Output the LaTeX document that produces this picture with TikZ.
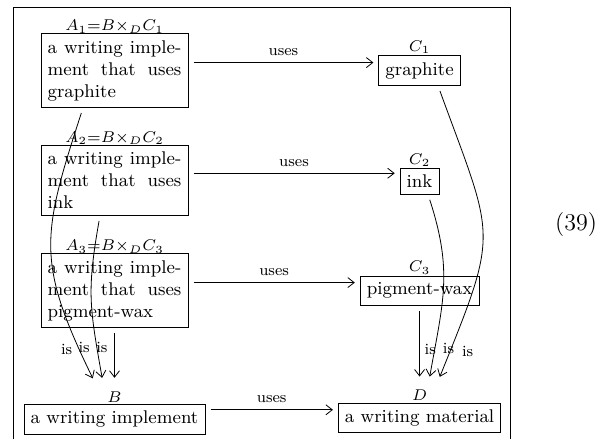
\documentclass[tikz,border=0pt]{standalone}
\usepackage{fix-cm}
\usepackage{tikz}
\usetikzlibrary{positioning,arrows.meta}
\newcommand{\boxfont}{\fontsize{9.2}{11}\selectfont}
\newcommand{\lblfont}{\fontsize{7.8}{9}\selectfont}
\tikzset{box/.style={draw,inner sep=3.3pt,font=\boxfont},
         textbox/.style={box,text width=66.9pt,align=justify},
         lbl/.style={font=\lblfont},
         every label/.style={inner sep=0.6pt,font=\lblfont}
}
\tikzstyle{arrow} = [->,>={Straight Barb[length=3.2pt,width=5pt]},shorten <=2.7pt,shorten >=2.5pt]

\begin{document}
\begin{tikzpicture}

\useasboundingbox (0,0) rectangle (304pt,-219.5pt);
\draw (6.65pt,-219.5pt) |- (255.35pt,-3.65pt) -- (255.35pt,-219.5pt);

\node[textbox,anchor=north,label={[yshift=-0.7pt]above:$A_1{=}B{\times_D}C_1$}] (A1) at (57.25pt,-16.65pt) {a writing implement that uses graphite};
\node[textbox,below=18.5pt of A1,label={[yshift=-0.7pt]above:$A_2{=}B{\times_D}C_2$}] (A2) {a writing implement that uses ink};
\node[textbox,below=18.8pt of A2,label={[yshift=-0.7pt]above:$A_3{=}B{\times_D}C_3$}] (A3) {a writing implement that uses pigment-wax};
\node[box,below=38pt of A3,label={above:$B$}] (B) {a writing implement};
\node[box,right=95pt of A1,label={above:$C_1$}] (C1) {graphite};
\node[box,below=41pt of C1,label={above:$C_2$}] (C2) {ink};
\node[box,below=40.5pt of C2,label={above:$C_3$}] (C3) {pigment-wax};
\node[box,below=48.5pt of C3,label={above:$D$}] (D) {a writing material};
\node[font=\fontsize{12}{14}\selectfont] (eqno) at (288pt,-112.5pt) {(39)};

\coordinate (Bin) at ([yshift=10.5pt]B.north);
\coordinate (Din) at ([yshift=10.5pt]D.north);
\coordinate (u1) at ([yshift=4pt]C1.west);
\coordinate (u2) at ([yshift=4pt]C2.west);
\coordinate (u3) at ([yshift=4pt]C3.west);
\coordinate (u4) at ([yshift=4pt]D.west);

\draw[arrow] (u1 -| A1.east) -- node[above,lbl] {uses} (u1);
\draw[arrow] (u2 -| A2.east) -- node[above,lbl] {uses} (u2);
\draw[arrow] (u3 -| A3.east) -- node[above,lbl] {uses} (u3);
\draw[arrow] (u4 -| B.east) -- node[above,lbl] {uses} (u4);

\draw[arrow] ([xshift=-15.75pt]A1.south) to[out=252,in=116,looseness=1.25] node[pos=0.9,left,lbl] {is} ([xshift=-9.75pt]Bin);
\draw[arrow] ([xshift=-7.25pt]A2.south) to[out=260,in=100,looseness=1.18] node[pos=0.82,left,lbl] {is} ([xshift=-5.75pt]Bin);
\draw[arrow] (A3.south) -- node[pos=0.35,left,lbl] {is} (Bin);
\draw[arrow] (C3.south) -- node[pos=0.58,right,xshift=-1pt,lbl] {is} (Din);
\draw[arrow] ([xshift=4.25pt]C2.south) to[out=288,in=80,looseness=1.11] node[pos=0.85,right,xshift=0.5pt,lbl] {is} ([xshift=4.65pt]Din);
\draw[arrow] ([xshift=9.25pt]C1.south) to[out=290,in=68,looseness=1.44] node[pos=0.93,right,xshift=2.5pt,lbl] {is} ([xshift=9.15pt]Din);

\end{tikzpicture}
\end{document}
